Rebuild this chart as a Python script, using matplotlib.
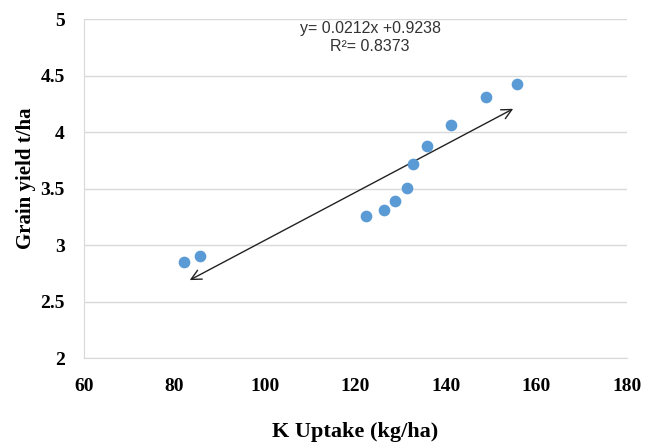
import numpy as np
import matplotlib
matplotlib.use("Agg")
import matplotlib.pyplot as plt

# K uptake (kg/ha) vs grain yield (t/ha)
k_uptake = [82.1, 85.6, 122.4, 126.2, 128.7, 131.3, 132.8, 135.8, 141.2, 148.9, 155.6]
grain_yield = [2.85, 2.90, 3.26, 3.31, 3.39, 3.51, 3.72, 3.88, 4.06, 4.31, 4.43]

slope, intercept = 0.0212, 0.9238
r2 = 0.8373
x_ticks = [60, 80, 100, 120, 140, 160, 180]
y_ticks = [2, 2.5, 3, 3.5, 4, 4.5, 5]

fig = plt.figure(figsize=(6.47, 4.46), dpi=100)
ax = fig.add_axes([0.130, 0.197, 0.839, 0.760])

ax.set_xlim(60, 180)
ax.set_ylim(2, 5)
ax.set_xticks(x_ticks)
ax.set_yticks(y_ticks)
ax.set_yticklabels(["2", "2.5", "3", "3.5", "4", "4.5", "5"])
ax.grid(axis="y", color="#d9d9d9", lw=1)
ax.set_axisbelow(True)
for s in ["top", "right"]:
    ax.spines[s].set_visible(False)
ax.spines["left"].set_color("#d9d9d9")
ax.spines["bottom"].set_color("#d9d9d9")
ax.tick_params(length=0)
ax.tick_params(axis="y", pad=14)
ax.tick_params(axis="x", pad=14)
for lab in ax.get_xticklabels() + ax.get_yticklabels():
    lab.set_fontfamily("Liberation Serif")
    lab.set_fontweight("bold")
    lab.set_fontsize(14)

ax.scatter(k_uptake, grain_yield, s=55, color="#5b9bd5", zorder=3)

# trend line drawn as a double-headed arrow
x0, x1 = min(k_uptake) + 0.7, max(k_uptake) - 0.2
ax.annotate("", xy=(x1, slope * x1 + intercept), xytext=(x0, slope * x0 + intercept),
            arrowprops=dict(arrowstyle="<->", color="#222222", lw=1, mutation_scale=18),
            zorder=2)

ax.text(0.527, 0.995, f"y= {slope}x +{intercept}\nR\u00b2= {r2}", transform=ax.transAxes,
        ha="center", va="top", fontsize=11.5, linespacing=1.3,
        family="Liberation Sans", color="#333333")

ax.set_xlabel("K Uptake (kg/ha)", fontsize=16, fontweight="bold",
              family="Liberation Serif", labelpad=20)
ax.set_ylabel("Grain yield t/ha", fontsize=15, fontweight="bold",
              family="Liberation Serif")
ax.yaxis.set_label_coords(-0.088, 0.53)

fig.savefig("out.png", dpi=100)
